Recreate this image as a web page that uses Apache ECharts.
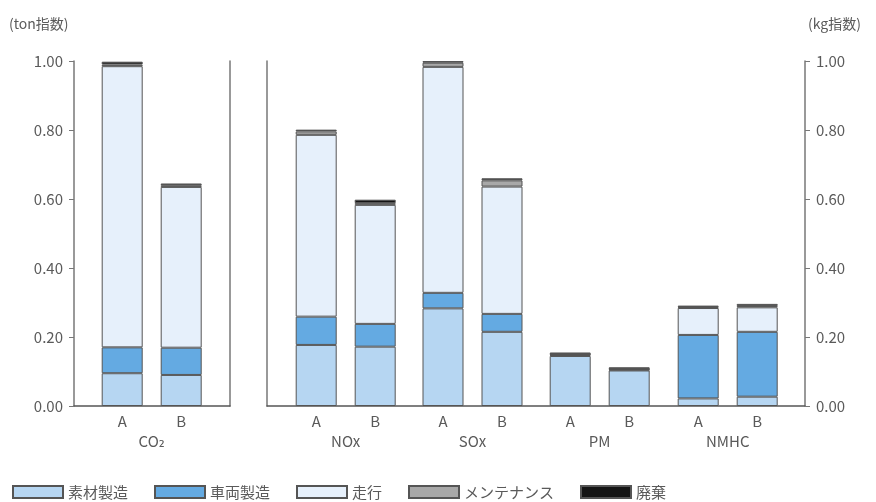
<!DOCTYPE html>
<html><head><meta charset="utf-8">
<script src="https://cdn.jsdelivr.net/npm/echarts@6/dist/echarts.min.js"></script>
<style>html,body{margin:0;padding:0;background:#fff}#c{width:876px;height:502px}</style>
</head><body><div id="c"></div>
<script>
// ---- data ----
const groups = ['CO₂', 'NOx', 'SOx', 'PM', 'NMHC'];
const variants = ['A', 'B'];
const seriesNames = ['素材製造', '車両製造', '走行', 'メンテナンス', '廃棄'];
// order: CO2 A, CO2 B, NOx A, NOx B, SOx A, SOx B, PM A, PM B, NMHC A, NMHC B
const material    = [0.095, 0.090, 0.177, 0.172, 0.283, 0.215, 0.145, 0.103, 0.022, 0.027];
const vehicle     = [0.075, 0.079, 0.082, 0.066, 0.045, 0.052, 0.003, 0.002, 0.184, 0.188];
const driving     = [0.815, 0.466, 0.527, 0.345, 0.655, 0.369, 0.002, 0.002, 0.078, 0.071];
const maintenance = [0.005, 0.005, 0.010, 0.005, 0.012, 0.018, 0.001, 0.001, 0.003, 0.004];
const disposal    = [0.008, 0.005, 0.005, 0.010, 0.005, 0.006, 0.004, 0.004, 0.004, 0.006];
const yTickLabels = ['0.00', '0.20', '0.40', '0.60', '0.80', '1.00'];
const unitLeft = '(ton指数)';
const unitRight = '(kg指数)';

// ---- styling / layout ----
const components = [material, vehicle, driving, maintenance, disposal];
const colors = ['#b6d6f2', '#64aae2', '#e6f0fb', '#a8a8a8', '#151515'];
const FONT = '"Noto Sans CJK JP", "DejaVu Sans", sans-serif';
const TXT = '#5a5a5a';
const groupCenters = [151.7, 345.7, 472.5, 599.7, 727.7];
const pairWidth = 118;
const TOP = 61, H = 345;

const grids = [
  {left: 74, top: TOP, width: 156, height: H},
  {left: 267, top: TOP, width: 538, height: H}
];
groupCenters.forEach(c => grids.push({left: c - pairWidth / 2, top: TOP, width: pairWidth, height: H}));

const frameLine = {show: true, lineStyle: {color: '#777', width: 1.5}};
const baseLine = {show: true, onZero: true, lineStyle: {color: '#555', width: 1.5}};
const labelFmt = v => yTickLabels[Math.round(v / 0.2)];

const xAxis = [
  {gridIndex: 0, type: 'category', data: [''], axisLine: baseLine, axisTick: {show: false}, axisLabel: {show: false}},
  {gridIndex: 1, type: 'category', data: [''], axisLine: baseLine, axisTick: {show: false}, axisLabel: {show: false}}
];
groups.forEach((g, i) => xAxis.push({
  gridIndex: 2 + i, type: 'category', data: variants,
  axisLine: {show: false}, axisTick: {show: false},
  axisLabel: {margin: 8, fontSize: 15, color: TXT, fontFamily: FONT},
  name: g, nameLocation: 'middle', nameGap: 28,
  nameTextStyle: {fontSize: 15, color: TXT, fontFamily: FONT}
}));

const yBase = {type: 'value', min: 0, max: 1, interval: 0.2, splitLine: {show: false}};
const yAxis = [
  Object.assign({}, yBase, {gridIndex: 0, position: 'left', axisLine: frameLine,
    axisTick: {show: true, length: 5, lineStyle: {color: '#777'}},
    axisLabel: {margin: 11, fontSize: 15, color: TXT, fontFamily: FONT, formatter: labelFmt}}),
  Object.assign({}, yBase, {gridIndex: 0, position: 'right', axisLine: frameLine,
    axisTick: {show: false}, axisLabel: {show: false}}),
  Object.assign({}, yBase, {gridIndex: 1, position: 'left', axisLine: frameLine,
    axisTick: {show: false}, axisLabel: {show: false}}),
  Object.assign({}, yBase, {gridIndex: 1, position: 'right', axisLine: frameLine,
    axisTick: {show: true, length: 5, lineStyle: {color: '#777'}},
    axisLabel: {margin: 11, fontSize: 15, color: TXT, fontFamily: FONT, formatter: labelFmt}})
];
groups.forEach((g, i) => yAxis.push(Object.assign({}, yBase, {gridIndex: 2 + i, show: false})));

const series = [];
groups.forEach((g, gi) => {
  components.forEach((arr, k) => {
    series.push({
      type: 'bar', name: seriesNames[k], xAxisIndex: 2 + gi, yAxisIndex: 4 + gi,
      stack: 'g' + gi, barWidth: 41,
      data: [arr[2 * gi], arr[2 * gi + 1]],
      itemStyle: {color: colors[k], borderColor: '#555', borderWidth: 1}
    });
  });
});

const chart = echarts.init(document.getElementById('c'), null, {renderer: 'canvas'});
chart.setOption({
  animation: false,
  backgroundColor: '#fff',
  title: [
    {text: unitLeft, left: 4, top: 12, textStyle: {fontSize: 14, fontWeight: 'normal', color: TXT, fontFamily: FONT}},
    {text: unitRight, left: 803, top: 12, textStyle: {fontSize: 14, fontWeight: 'normal', color: TXT, fontFamily: FONT}}
  ],
  grid: grids,
  xAxis: xAxis,
  yAxis: yAxis,
  legend: {
    data: seriesNames, left: 12, top: 483, padding: [0, 0, 0, 0],
    itemWidth: 50, itemHeight: 12, itemGap: 26,
    icon: 'rect',
    textStyle: {fontSize: 15, color: TXT, fontFamily: FONT, lineHeight: 18}
  },
  series: series
});
</script>
</body></html>
